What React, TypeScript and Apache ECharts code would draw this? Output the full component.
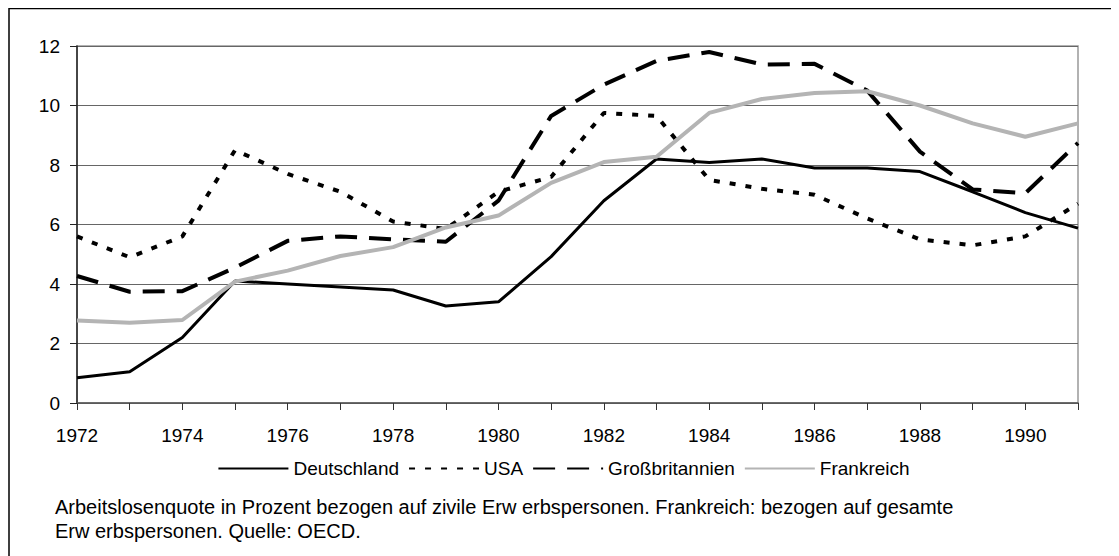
import React, { useEffect, useRef } from "react";
import * as echarts from "echarts";

const years = ["1972","1973","1974","1975","1976","1977","1978","1979","1980","1981","1982","1983","1984","1985","1986","1987","1988","1989","1990","1991"];
const deutschland = [0.85, 1.05, 2.2, 4.1, 4.0, 3.9, 3.8, 3.26, 3.4, 4.92, 6.8, 8.2, 8.08, 8.2, 7.9, 7.9, 7.78, 7.1, 6.4, 5.88];
const usa = [5.6, 4.9, 5.6, 8.5, 7.7, 7.1, 6.1, 5.85, 7.1, 7.6, 9.75, 9.65, 7.5, 7.2, 7.0, 6.2, 5.5, 5.3, 5.6, 6.7];
const grossbritannien = [4.27, 3.74, 3.76, 4.55, 5.45, 5.6, 5.5, 5.42, 6.8, 9.65, 10.7, 11.5, 11.8, 11.38, 11.4, 10.5, 8.45, 7.18, 7.05, 8.74];
const frankreich = [2.77, 2.7, 2.79, 4.08, 4.45, 4.94, 5.24, 5.9, 6.3, 7.4, 8.1, 8.28, 9.75, 10.22, 10.42, 10.48, 10.0, 9.4, 8.95, 9.4];
const yTicks = { min: 0, max: 12, interval: 2 };
const footLine1 = "Arbeitslosenquote in Prozent bezogen auf zivile Erw erbspersonen. Frankreich: bezogen auf gesamte";
const footLine2 = "Erw erbspersonen. Quelle: OECD.";

const FONT = "'Liberation Sans', Arial, sans-serif";

export default function App() {
  const ref = useRef<HTMLDivElement>(null);
  useEffect(() => {
    if (!ref.current) return;
    const chart = echarts.init(ref.current, undefined, { renderer: "svg" });
    chart.setOption({
      animation: false,
      backgroundColor: "#fff",
      textStyle: { fontFamily: FONT },
      grid: { left: 69, right: 41, top: 38, bottom: 153, show: true, borderColor: "#999", borderWidth: 1.5 },
      xAxis: {
        type: "category",
        data: years,
        boundaryGap: false,
        axisLine: { lineStyle: { color: "#555", width: 1.5 } },
        axisTick: { show: true, interval: 0, length: 7, lineStyle: { color: "#333" } },
        axisLabel: { interval: 1, color: "#000", fontSize: 19, margin: 23, fontFamily: FONT },
        splitLine: { show: false },
      },
      yAxis: {
        type: "value",
        min: yTicks.min,
        max: yTicks.max,
        interval: yTicks.interval,
        axisLine: { show: true, lineStyle: { color: "#222", width: 1.5 } },
        axisTick: { show: true, length: 7, lineStyle: { color: "#222" } },
        axisLabel: { color: "#000", fontSize: 19, margin: 17, fontFamily: FONT },
        splitLine: { show: true, lineStyle: { color: "#666", width: 1 } },
      },
      legend: {
        top: 446,
        left: "center",
        itemWidth: 70,
        itemHeight: 14,
        itemGap: 9,
        itemStyle: { opacity: 0 },
        textStyle: { fontSize: 19, color: "#000", fontFamily: FONT },
        data: ["Deutschland", "USA", "Großbritannien", "Frankreich"],
      },
      graphic: [
        { type: "rect", shape: { x: 1, y: 0.5, width: 1400, height: 1000 }, style: { fill: "none", stroke: "#000", lineWidth: 1.5 }, silent: true },
        { type: "text", left: 47, top: 489, style: { text: footLine1, fontSize: 20, fill: "#000", fontFamily: FONT } },
        { type: "text", left: 47, top: 513, style: { text: footLine2, fontSize: 20, fill: "#000", fontFamily: FONT } },
      ],
      series: [
        { name: "Deutschland", type: "line", data: deutschland, symbol: "none", lineStyle: { color: "#000", width: 3 }, itemStyle: { color: "#000" } },
        { name: "USA", type: "line", data: usa, symbol: "none", lineStyle: { color: "#000", width: 4, type: [6, 10] }, itemStyle: { color: "#000" } },
        { name: "Großbritannien", type: "line", data: grossbritannien, symbol: "none", lineStyle: { color: "#000", width: 4, type: [22, 12] }, itemStyle: { color: "#000" } },
        { name: "Frankreich", type: "line", data: frankreich, symbol: "none", lineStyle: { color: "#b4b4b4", width: 4 }, itemStyle: { color: "#b4b4b4" } },
      ],
    });
    return () => chart.dispose();
  }, []);
  return <div ref={ref} style={{ width: 1111, height: 548 }} />;
}
